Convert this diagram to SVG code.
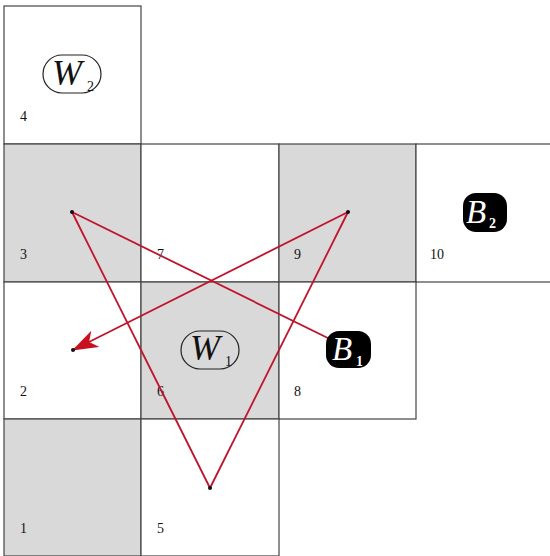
<svg xmlns="http://www.w3.org/2000/svg" width="550" height="556" viewBox="0 0 550 556">
<defs>
<style>
.cw{fill:#ffffff;stroke:#444;stroke-width:1.2}
.cg{fill:#d9d9d9;stroke:#444;stroke-width:1.2}
.num{font-family:"Liberation Serif",serif;font-size:14px;fill:#111}
.big{font-family:"Liberation Serif",serif;font-style:italic;font-size:36px;fill:#111}
.bb{font-family:"Liberation Serif",serif;font-style:italic;font-size:33px;fill:#fff}
.sub{font-family:"Liberation Serif",serif;font-size:14px;fill:#111}
.subw{font-family:"Liberation Serif",serif;font-size:14px;fill:#fff;font-weight:bold}
.edge{stroke:#c0132b;stroke-width:1.8;fill:none}
.dot{fill:#111}
</style>
<marker id="arr" viewBox="0 0 26 18" markerWidth="26" markerHeight="18" refX="25" refY="9" orient="auto" markerUnits="userSpaceOnUse">
<path d="M0,0 L26,9 L0,18 L7,9 Z" fill="#c8101e"/>
</marker>
</defs>
<rect width="550" height="556" fill="#ffffff"/>
<g id="cell4"><rect class="cw" x="4" y="6" width="137" height="138"/><text class="num" x="20" y="121">4</text>
<g id="W2"><rect x="43" y="55" width="58" height="38" rx="19" fill="#fff" stroke="#222" stroke-width="1.2"/><text class="big" x="52" y="85">W</text><text class="sub" x="87" y="91">2</text></g></g>
<g id="cell3"><rect class="cg" x="4" y="144" width="137" height="138"/><text class="num" x="20" y="259">3</text></g>
<g id="cell7"><rect class="cw" x="141" y="144" width="138" height="138"/><text class="num" x="157" y="259">7</text></g>
<g id="cell9"><rect class="cg" x="279" y="144" width="137" height="138"/><text class="num" x="294" y="259">9</text></g>
<g id="cell10"><rect class="cw" x="416" y="144" width="140" height="138"/><text class="num" x="430" y="259">10</text>
<g id="B2"><rect x="463" y="193" width="44" height="39" rx="13" fill="#000"/><text class="bb" x="466" y="223">B</text><text class="subw" x="489" y="228">2</text></g></g>
<g id="cell2"><rect class="cw" x="4" y="282" width="137" height="137"/><text class="num" x="20" y="396">2</text></g>
<g id="cell6"><rect class="cg" x="141" y="282" width="138" height="137"/><text class="num" x="157" y="396">6</text></g>
<g id="cell8"><rect class="cw" x="279" y="282" width="137" height="137"/><text class="num" x="294" y="396">8</text></g>
<g id="cell1"><rect class="cg" x="4" y="419" width="137" height="137"/><text class="num" x="20" y="533">1</text></g>
<g id="cell5"><rect class="cw" x="141" y="419" width="138" height="137"/><text class="num" x="157" y="533">5</text></g>
<g id="connectors">
<line class="edge" x1="72" y1="212" x2="338" y2="343"/>
<line class="edge" x1="72" y1="212" x2="210" y2="488"/>
<line class="edge" x1="210" y1="488" x2="348" y2="212"/>
<line class="edge" x1="348" y1="212" x2="73" y2="350" marker-end="url(#arr)"/>
<circle class="dot" cx="72" cy="212" r="2"/>
<circle class="dot" cx="348" cy="212" r="2"/>
<circle class="dot" cx="210" cy="488" r="2"/>
<circle class="dot" cx="73" cy="350" r="2"/>
</g>
<g id="W1"><rect x="181" y="331" width="58" height="38" rx="19" fill="#d9d9d9" stroke="#222" stroke-width="1.2"/><text class="big" x="190" y="360">W</text><text class="sub" x="225" y="366">1</text></g>
<g id="B1"><rect x="326" y="331" width="45" height="37" rx="13" fill="#000"/><text class="bb" x="332" y="360">B</text><text class="subw" x="356" y="366">1</text></g>
</svg>
